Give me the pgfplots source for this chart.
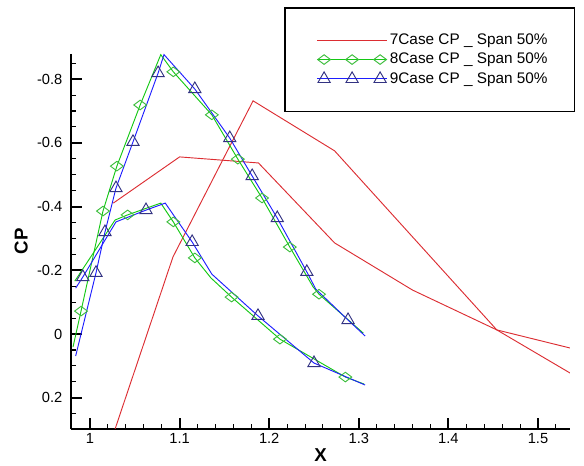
\documentclass[border=0pt]{standalone}
\usepackage{fontspec}
\setmainfont{Liberation Sans}
\usepackage{pgfplots}
\pgfplotsset{compat=1.18}
\definecolor{cpred}{RGB}{220,45,50}
\definecolor{cpgreen}{RGB}{20,200,20}
\definecolor{cpblue}{RGB}{30,30,255}
\definecolor{trimark}{RGB}{50,50,130}
\definecolor{diamark}{RGB}{60,190,60}

\begin{document}
\begin{tikzpicture}
\begin{axis}[
  scale only axis, width=374.25pt, height=281.25pt,
  xmin=0.9788, xmax=1.5357, ymin=-0.879, ymax=0.298,
  y dir=reverse,
  axis lines*=left,
  axis line style={-, line width=1.6pt},
  tick align=inside,
  xtick={1,1.1,1.2,1.3,1.4,1.5},
  ytick={-0.8,-0.6,-0.4,-0.2,0,0.2},
  minor xtick={1.02,1.04,1.06,1.08,1.12,1.14,1.16,1.18,1.22,1.24,1.26,1.28,1.32,1.34,1.36,1.38,1.42,1.44,1.46,1.48,1.52},
  minor ytick={-0.85,-0.75,-0.7,-0.65,-0.55,-0.5,-0.45,-0.35,-0.3,-0.25,-0.15,-0.1,-0.05,0.05,0.1,0.15,0.25},
  major tick length=8pt, minor tick length=4pt,
  major tick style={line width=1.5pt, black},
  minor tick style={line width=0.8pt, black},
  tick label style={font=\fontsize{11}{13}\selectfont},
  yticklabel style={xshift=-3pt},
  /pgf/number format/assume math mode=true,
  xlabel={X}, ylabel={CP},
  label style={font=\bfseries\fontsize{14}{16}\selectfont},
  xlabel style={yshift=3.5pt},
  legend style={at={(1.010,1.125)}, anchor=north east, draw=black, line width=1.1pt,
    inner xsep=18pt, inner ysep=17.5pt, row sep=1pt,
    font=\fontsize{11.5}{13}\selectfont, cells={anchor=west}},
  legend image code/.code={
    \path (-6pt,0pt);
    \draw[#1] (0pt,0pt) -- (52pt,0pt);
    \draw[#1] plot coordinates {(5pt,0pt) (26pt,0pt) (47pt,0pt)};
  },
]
\coordinate (SW) at (axis description cs:0,0);
\coordinate (NE) at (axis description cs:1,1);

\addlegendimage{cpred, line width=0.7pt}
\addlegendentry{7Case CP \_ Span 50\%}
\addlegendimage{cpgreen, line width=0.7pt, mark=diamond, mark size=4.8pt, mark options={draw=diamark, rotate=90}}
\addlegendentry{8Case CP \_ Span 50\%}
\addlegendimage{cpblue, line width=0.7pt, mark=triangle, mark size=5.3pt, mark options={draw=trimark}}
\addlegendentry{9Case CP \_ Span 50\%}

% 7Case
\addplot[cpred, line width=0.7pt, forget plot] coordinates {
(1.028,0.298) (1.0926,-0.242) (1.182,-0.732) (1.273,-0.575) (1.454,-0.013) (1.538,0.126)};
\addplot[cpred, line width=0.7pt, forget plot] coordinates {
(1.026,-0.411) (1.100,-0.556) (1.188,-0.537) (1.273,-0.286) (1.360,-0.138) (1.454,-0.013) (1.536,0.044)};

% 8Case
\addplot[cpgreen, line width=0.7pt, forget plot] coordinates {
(0.981,0.041) (0.990,-0.072) (1.0145,-0.386) (1.030,-0.527) (1.056,-0.719) (1.079,-0.877)
(1.093,-0.823) (1.136,-0.688) (1.165,-0.549) (1.192,-0.427) (1.223,-0.273) (1.249,-0.148)
(1.2556,-0.125) (1.305,-0.003)};
\addplot[cpgreen, line width=0.7pt, forget plot] coordinates {
(0.983,-0.166) (1.028,-0.358) (1.042,-0.374) (1.079,-0.411) (1.093,-0.352) (1.117,-0.239)
(1.135,-0.176) (1.158,-0.116) (1.212,0.016) (1.285,0.135) (1.306,0.157)};
\addplot[only marks, mark=diamond, mark size=4.8pt, mark options={draw=diamark, rotate=90, line width=0.7pt}, forget plot] coordinates {
(0.990,-0.072) (1.0145,-0.386) (1.030,-0.527) (1.056,-0.719) (1.093,-0.823) (1.136,-0.688)
(1.165,-0.549) (1.192,-0.427) (1.223,-0.273) (1.2556,-0.125)
(1.042,-0.374) (1.093,-0.352) (1.117,-0.239) (1.158,-0.116) (1.212,0.016) (1.285,0.135)};

% 9Case
\addplot[cpblue, line width=0.7pt, forget plot] coordinates {
(0.984,0.069) (1.0067,-0.192) (1.0167,-0.320) (1.029,-0.458) (1.048,-0.603) (1.076,-0.819)
(1.0826,-0.877) (1.117,-0.769) (1.156,-0.615) (1.181,-0.496) (1.209,-0.364) (1.242,-0.195)
(1.252,-0.141) (1.288,-0.044) (1.307,0.006)};
\addplot[cpblue, line width=0.7pt, forget plot] coordinates {
(0.984,-0.144) (0.992,-0.179) (1.029,-0.352) (1.0625,-0.389) (1.084,-0.411) (1.114,-0.289)
(1.136,-0.188) (1.1875,-0.057) (1.25,0.091) (1.307,0.160)};
\addplot[only marks, mark=triangle, mark size=5.3pt, mark options={draw=trimark, line width=0.7pt}, forget plot] coordinates {
(1.0067,-0.192) (1.0167,-0.320) (1.029,-0.458) (1.048,-0.603) (1.076,-0.819)
(1.117,-0.769) (1.156,-0.615) (1.181,-0.496) (1.209,-0.364) (1.242,-0.195) (1.288,-0.044)
(0.992,-0.179) (1.0625,-0.389) (1.114,-0.289) (1.1875,-0.057) (1.25,0.091)};
\end{axis}
\path ([shift={(-53.25pt,-26.25pt)}]SW) rectangle ([shift={(10.5pt,40.5pt)}]NE);
\end{tikzpicture}
\end{document}
